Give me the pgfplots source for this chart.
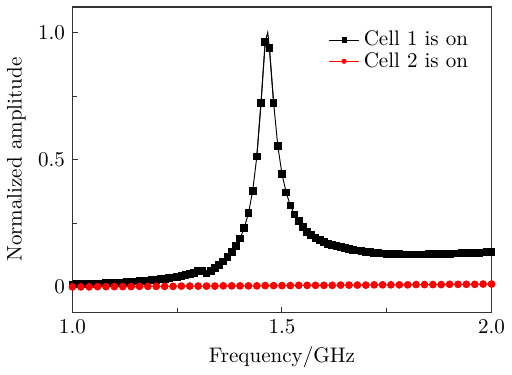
\documentclass[border=0pt]{standalone}
\usepackage{pgfplots}
\pgfplotsset{compat=1.18}
\usepackage{pgfplotstable}
\pgfplotstableread{
x y
1.00 0.009
1.01 0.010
1.02 0.010
1.03 0.011
1.04 0.011
1.05 0.012
1.06 0.012
1.07 0.013
1.08 0.014
1.09 0.014
1.10 0.015
1.11 0.016
1.12 0.017
1.13 0.018
1.14 0.019
1.15 0.021
1.16 0.022
1.17 0.023
1.18 0.025
1.19 0.027
1.20 0.028
1.21 0.030
1.22 0.032
1.23 0.034
1.24 0.037
1.25 0.040
1.26 0.043
1.27 0.047
1.28 0.051
1.29 0.056
1.30 0.062
1.31 0.063
1.32 0.053
1.33 0.063
1.34 0.074
1.35 0.086
1.36 0.100
1.37 0.117
1.38 0.137
1.39 0.160
1.40 0.190
1.41 0.232
1.42 0.289
1.43 0.376
1.44 0.512
1.45 0.724
1.46 0.963
1.47 0.940
1.48 0.724
1.49 0.554
1.50 0.444
1.51 0.371
1.52 0.320
1.53 0.284
1.54 0.258
1.55 0.235
1.56 0.217
1.57 0.203
1.58 0.192
1.59 0.183
1.60 0.176
1.61 0.170
1.62 0.165
1.63 0.160
1.64 0.156
1.65 0.152
1.66 0.149
1.67 0.146
1.68 0.143
1.69 0.140
1.70 0.138
1.71 0.136
1.72 0.134
1.73 0.132
1.74 0.131
1.75 0.130
1.76 0.129
1.77 0.128
1.78 0.128
1.79 0.127
1.80 0.127
1.81 0.127
1.82 0.127
1.83 0.127
1.84 0.127
1.85 0.128
1.86 0.128
1.87 0.129
1.88 0.129
1.89 0.130
1.90 0.130
1.91 0.131
1.92 0.131
1.93 0.132
1.94 0.132
1.95 0.133
1.96 0.134
1.97 0.134
1.98 0.135
1.99 0.136
2.00 0.137
}\cellone
\pgfplotstableread{
x y
1.44 0.512
1.45 0.724
1.46 0.963
1.466 1.000
1.47 0.940
1.48 0.724
}\peakline
\pgfplotstableread{
x y
1.00 0.000
1.02 0.000
1.04 0.000
1.06 0.001
1.08 0.001
1.10 0.001
1.12 0.001
1.14 0.001
1.16 0.002
1.18 0.002
1.20 0.002
1.22 0.002
1.24 0.002
1.26 0.003
1.28 0.003
1.30 0.003
1.32 0.003
1.34 0.003
1.36 0.004
1.38 0.004
1.40 0.004
1.42 0.004
1.44 0.004
1.46 0.005
1.48 0.005
1.50 0.005
1.52 0.005
1.54 0.006
1.56 0.006
1.58 0.006
1.60 0.006
1.62 0.006
1.64 0.007
1.66 0.007
1.68 0.007
1.70 0.007
1.72 0.008
1.74 0.008
1.76 0.008
1.78 0.008
1.80 0.008
1.82 0.009
1.84 0.009
1.86 0.009
1.88 0.009
1.90 0.010
1.92 0.010
1.94 0.010
1.96 0.010
1.98 0.011
2.00 0.011
}\celltwo
\begin{document}
\begin{tikzpicture}
\begin{axis}[
  scale only axis,
  width=199pt, height=145pt,
  xmin=1.0, xmax=2.0, ymin=-0.1, ymax=1.1,
  xtick={1.0,1.5,2.0},
  xticklabels={1.0,1.5,2.0},
  ytick={0,0.5,1.0},
  yticklabels={0,0.5,1.0},
  minor x tick num=1, minor y tick num=1,
  tick align=inside,
  xtick pos=left, ytick pos=left,
  major tick length=2.5pt, minor tick length=2pt,
  axis line style={black!80, line width=0.55pt},
  every tick/.style={black!80, line width=0.45pt},
  xlabel={Frequency/GHz},
  ylabel={Normalized amplitude},
  xlabel style={yshift=1pt},
  ylabel style={yshift=-1pt},
  legend style={draw=none, fill=none, at={(0.97,0.95)}, anchor=north east, font=\normalsize, row sep=-2.5pt},
  legend cell align=left,
  legend image code/.code={\draw[mark repeat=2,mark phase=2] plot coordinates {(0cm,0cm) (0.25cm,0cm) (0.5cm,0cm)};},
  legend image post style={mark size=1.0pt},
]
\addplot[black, line width=0.45pt, forget plot] table[x=x,y=y] {\peakline};
\addplot[black, line width=0.45pt, mark=square*, mark size=1.6pt] table[x=x,y=y] {\cellone};
\addlegendentry{Cell 1 is on}
\addplot[red, line width=0.45pt, mark=*, mark size=1.6pt] table[x=x,y=y] {\celltwo};
\addlegendentry{Cell 2 is on}
\end{axis}
\path ([yshift=3.3pt]current axis.north);
\end{tikzpicture}
\end{document}
